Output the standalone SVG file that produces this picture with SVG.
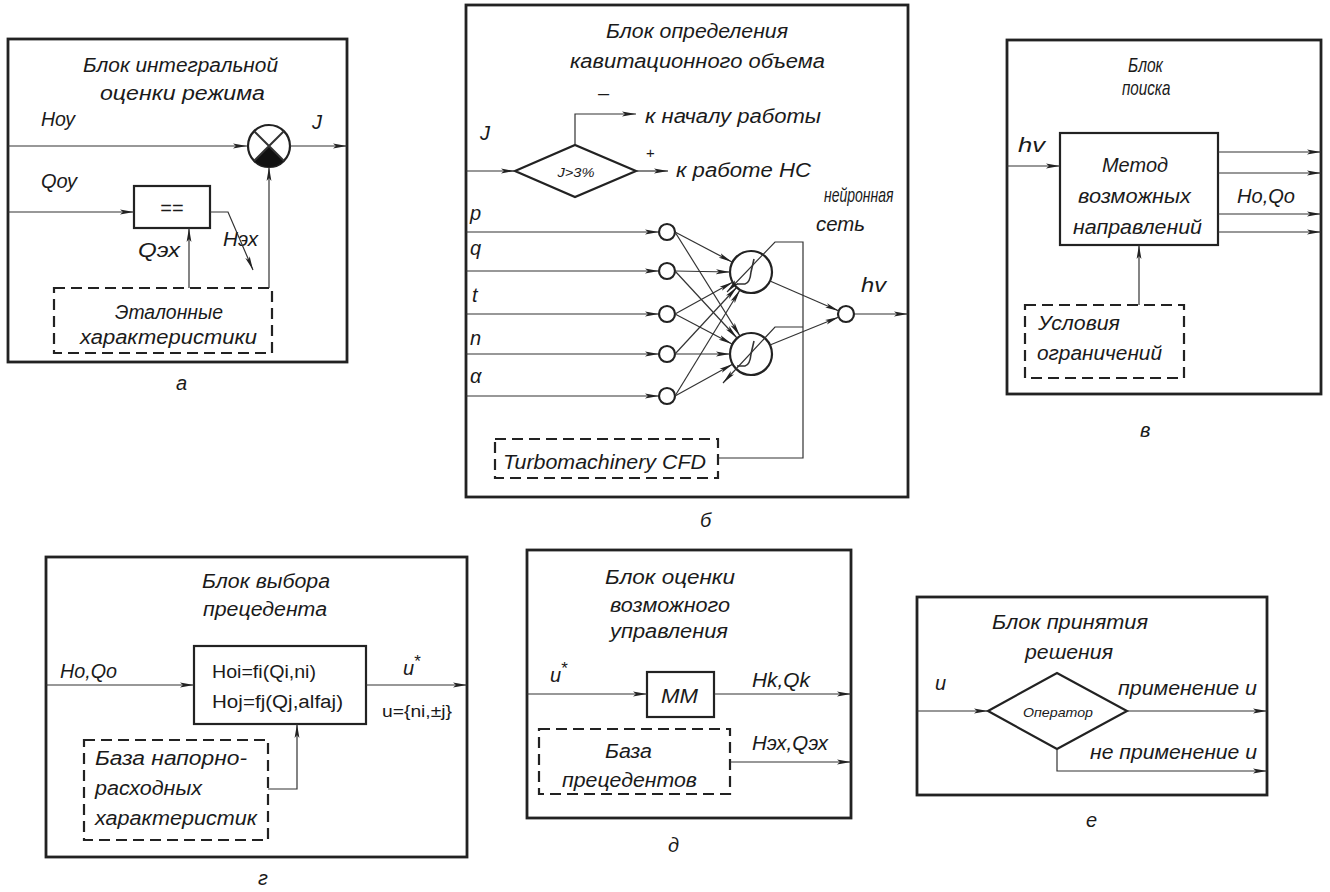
<svg xmlns="http://www.w3.org/2000/svg" width="1330" height="892" viewBox="0 0 1330 892">
<style>
text{font-family:"Liberation Sans","DejaVu Sans",sans-serif;font-style:italic;fill:#1a1a1a;font-size:20px}
.up{font-style:normal}
.sm{font-size:13px}
.frame{fill:none;stroke:#222;stroke-width:2.8}
.box{fill:#fff;stroke:#222;stroke-width:2.2}
.dash{fill:none;stroke:#222;stroke-width:2.2;stroke-dasharray:11 6}
.ln{fill:none;stroke:#333;stroke-width:1.2}
.lna{fill:none;stroke:#333;stroke-width:1.2;marker-end:url(#arr)}
.nc{fill:#fff;stroke:#222;stroke-width:2.2}
</style>
<defs>
<marker id="arr" viewBox="0 0 14 6" refX="14" refY="3" markerWidth="14" markerHeight="6" markerUnits="userSpaceOnUse" orient="auto"><path d="M0,0.6 L14,3 L0,5.4 L3,3 Z" fill="#222"/></marker>
</defs>
<rect width="1330" height="892" fill="#fff"/>

<!-- Panel a -->
<g id="panel-a">
<rect class="frame" x="8" y="39" width="339" height="323"/>
<text x="83" y="72" textLength="195" lengthAdjust="spacingAndGlyphs">Блок интегральной</text>
<text x="100" y="100" textLength="165" lengthAdjust="spacingAndGlyphs">оценки режима</text>
<text x="41" y="126" textLength="34" lengthAdjust="spacingAndGlyphs">Ноу</text>
<text x="312" y="129">J</text>
<text x="41" y="188" textLength="36" lengthAdjust="spacingAndGlyphs">Qоу</text>
<text x="223" y="246" textLength="35" lengthAdjust="spacingAndGlyphs">Нэх</text>
<text x="138" y="257" textLength="42" lengthAdjust="spacingAndGlyphs">Qэх</text>
<text x="176" y="390">а</text>
<g id="a-sum">
<circle class="nc" cx="269" cy="146" r="21"/>
<path d="M269,146 L254.2,160.8 A21,21 0 0 0 283.8,160.8 Z" fill="#111"/>
<path class="ln" d="M254.2,131.2 L283.8,160.8 M283.8,131.2 L254.2,160.8" style="stroke-width:2"/>
</g>
<g id="a-compare">
<rect class="box" x="134" y="186" width="76" height="42"/>
<text x="172" y="215" text-anchor="middle" class="up">==</text>
</g>
<g id="a-etalon">
<rect class="dash" x="54" y="288" width="218" height="65"/>
<text x="115" y="319" textLength="108" lengthAdjust="spacingAndGlyphs">Эталонные</text>
<text x="80" y="344" textLength="177" lengthAdjust="spacingAndGlyphs">характеристики</text>
</g>
<g id="a-connectors">
<path class="lna" d="M8,146 H247"/>
<path class="lna" d="M290,146 H347"/>
<path class="lna" d="M8,212 H134"/>
<path class="lna" d="M210,212 H228 L253,270"/>
<path class="lna" d="M189,288 V228"/>
<path class="lna" d="M269,288 V167"/>
</g>
</g>

<!-- Panel b -->
<g id="panel-b">
<rect class="frame" x="466" y="5" width="442" height="492"/>
<text x="606" y="38" textLength="182" lengthAdjust="spacingAndGlyphs">Блок определения</text>
<text x="570" y="68" textLength="255" lengthAdjust="spacingAndGlyphs">кавитационного объема</text>
<text x="598" y="100" class="up">–</text>
<text x="645" y="123" textLength="176" lengthAdjust="spacingAndGlyphs">к началу работы</text>
<text x="480" y="140">J</text>
<text x="646" y="158" class="up" style="font-size:15px">+</text>
<text x="676" y="177" textLength="135" lengthAdjust="spacingAndGlyphs">к работе НС</text>
<text transform="matrix(0.7 0 0 1 824 202)">нейронная</text>
<text x="816" y="231" textLength="49" lengthAdjust="spacingAndGlyphs">сеть</text>
<text x="470" y="220">p</text>
<text x="470" y="255">q</text>
<text x="472" y="302">t</text>
<text x="470" y="345">n</text>
<text x="470" y="383">α</text>
<text x="861" y="292" textLength="25" lengthAdjust="spacingAndGlyphs">hv</text>
<text x="700" y="527">б</text>
<g id="b-decision">
<polygon class="box" points="515,171 575,145 636,171 575,197"/>
<text x="576" y="177" text-anchor="middle" class="sm" textLength="37" lengthAdjust="spacingAndGlyphs">J&gt;3%</text>
</g>
<g id="b-inputs">
<circle class="nc" cx="667" cy="232" r="8"/>
<circle class="nc" cx="667" cy="271" r="8"/>
<circle class="nc" cx="667" cy="314" r="8"/>
<circle class="nc" cx="667" cy="354" r="8"/>
<circle class="nc" cx="667" cy="396" r="8"/>
</g>
<g id="b-hidden1">
<circle class="nc" cx="751" cy="272" r="21"/>
<path class="ln" d="M737,284 L745,284 Q750,283 751,272 L754,259" style="stroke-width:1.6"/>
</g>
<g id="b-hidden2">
<circle class="nc" cx="751" cy="354" r="21"/>
<path class="ln" d="M737,366 L745,366 Q750,365 751,354 L754,341" style="stroke-width:1.6"/>
</g>
<g id="b-output">
<circle class="nc" cx="846" cy="314" r="8"/>
</g>
<g id="b-cfd">
<rect class="dash" x="495" y="439" width="223" height="39"/>
<text x="503" y="469" textLength="203" lengthAdjust="spacingAndGlyphs">Turbomachinery CFD</text>
</g>
<g id="b-connectors">
<path class="lna" d="M466,171 H515"/>
<path class="lna" d="M575,145 V114 H636"/>
<path class="lna" d="M636,171 H668"/>
<path class="lna" d="M466,232 H659"/>
<path class="lna" d="M466,271 H659"/>
<path class="lna" d="M466,314 H659"/>
<path class="lna" d="M466,354 H659"/>
<path class="lna" d="M466,396 H659"/>
<path class="lna" d="M675,232 L732,262"/>
<path class="lna" d="M675,271 L730,272"/>
<path class="lna" d="M675,314 L733,282"/>
<path class="lna" d="M675,354 L737,287"/>
<path class="lna" d="M675,396 L740,290"/>
<path class="lna" d="M675,232 L740,336"/>
<path class="lna" d="M675,271 L737,338"/>
<path class="lna" d="M675,314 L732,344"/>
<path class="lna" d="M675,354 L730,354"/>
<path class="lna" d="M675,396 L733,364"/>
<path class="lna" d="M770,281 L839,311"/>
<path class="lna" d="M770,345 L839,317"/>
<path class="lna" d="M854,314 H908"/>
<path class="lna" d="M718,458 H803 V242 H775 L727,292"/>
<path class="lna" d="M803,327 H775 L723,383"/>
</g>
</g>

<!-- Panel v -->
<g id="panel-v">
<rect class="frame" x="1007" y="40" width="314" height="354"/>
<text transform="matrix(0.78 0 0 1 1128 72)">Блок</text>
<text transform="matrix(0.76 0 0 1 1122 95)">поиска</text>
<text x="1018" y="152" textLength="27" lengthAdjust="spacingAndGlyphs">hv</text>
<text x="1237" y="203" textLength="58" lengthAdjust="spacingAndGlyphs">Но,Qo</text>
<text x="1140" y="437">в</text>
<g id="v-method">
<rect class="box" x="1060" y="133" width="158" height="112"/>
<text x="1102" y="172" textLength="66" lengthAdjust="spacingAndGlyphs">Метод</text>
<text x="1078" y="203" textLength="113" lengthAdjust="spacingAndGlyphs">возможных</text>
<text x="1073" y="234" textLength="129" lengthAdjust="spacingAndGlyphs">направлений</text>
</g>
<g id="v-constraints">
<rect class="dash" x="1025" y="305" width="159" height="73"/>
<text x="1038" y="330" textLength="82" lengthAdjust="spacingAndGlyphs">Условия</text>
<text x="1037" y="360" textLength="125" lengthAdjust="spacingAndGlyphs">ограничений</text>
</g>
<g id="v-connectors">
<path class="lna" d="M1007,166 H1060"/>
<path class="lna" d="M1218,152 H1321"/>
<path class="lna" d="M1218,173 H1321"/>
<path class="lna" d="M1218,214 H1321"/>
<path class="lna" d="M1218,232 H1321"/>
<path class="lna" d="M1139,305 V245"/>
</g>
</g>

<!-- Panel g -->
<g id="panel-g">
<rect class="frame" x="46" y="557" width="421" height="300"/>
<text x="202" y="588" textLength="128" lengthAdjust="spacingAndGlyphs">Блок выбора</text>
<text x="203" y="616" textLength="124" lengthAdjust="spacingAndGlyphs">прецедента</text>
<text x="60" y="678" textLength="57" lengthAdjust="spacingAndGlyphs">Но,Qo</text>
<text x="403" y="675">u<tspan dy="-8" class="up" style="font-size:17px">*</tspan></text>
<text x="382" y="717" class="up" style="font-size:17px" textLength="70" lengthAdjust="spacingAndGlyphs">u={ni,±j}</text>
<text x="258" y="885">г</text>
<g id="g-func">
<rect class="box" x="194" y="646" width="172" height="78"/>
<text x="212" y="678" class="up" style="font-size:18px" textLength="104" lengthAdjust="spacingAndGlyphs">Hoi=fi(Qi,ni)</text>
<text x="212" y="708" class="up" style="font-size:18px" textLength="131" lengthAdjust="spacingAndGlyphs">Hoj=fj(Qj,alfaj)</text>
</g>
<g id="g-base">
<rect class="dash" x="84" y="740" width="184" height="100"/>
<text x="95" y="765" textLength="152" lengthAdjust="spacingAndGlyphs">База напорно-</text>
<text x="95" y="795" textLength="107" lengthAdjust="spacingAndGlyphs">расходных</text>
<text x="95" y="825" textLength="162" lengthAdjust="spacingAndGlyphs">характеристик</text>
</g>
<g id="g-connectors">
<path class="lna" d="M46,685 H194"/>
<path class="lna" d="M366,685 H467"/>
<path class="lna" d="M268,789 H297 V724"/>
</g>
</g>

<!-- Panel d -->
<g id="panel-d">
<rect class="frame" x="527" y="550" width="324" height="268"/>
<text x="605" y="584" textLength="130" lengthAdjust="spacingAndGlyphs">Блок оценки</text>
<text x="610" y="612" textLength="120" lengthAdjust="spacingAndGlyphs">возможного</text>
<text x="610" y="638" textLength="118" lengthAdjust="spacingAndGlyphs">управления</text>
<text x="550" y="682">u<tspan dy="-8" class="up" style="font-size:17px">*</tspan></text>
<text x="752" y="687" textLength="58" lengthAdjust="spacingAndGlyphs">Hk,Qk</text>
<text x="752" y="750" textLength="76" lengthAdjust="spacingAndGlyphs">Нэх,Qэх</text>
<text x="668" y="852">д</text>
<g id="d-mm">
<rect class="box" x="647" y="672" width="67" height="45"/>
<text x="661" y="703" textLength="37" lengthAdjust="spacingAndGlyphs">MM</text>
</g>
<g id="d-base">
<rect class="dash" x="539" y="729" width="191" height="65"/>
<text x="605" y="758" textLength="47" lengthAdjust="spacingAndGlyphs">База</text>
<text x="562" y="787" textLength="135" lengthAdjust="spacingAndGlyphs">прецедентов</text>
</g>
<g id="d-connectors">
<path class="lna" d="M527,694 H647"/>
<path class="lna" d="M714,694 H851"/>
<path class="lna" d="M730,762 H851"/>
</g>
</g>

<!-- Panel e -->
<g id="panel-e">
<rect class="frame" x="917" y="597" width="350" height="198"/>
<text x="992" y="629" textLength="156" lengthAdjust="spacingAndGlyphs">Блок принятия</text>
<text x="1025" y="659" textLength="88" lengthAdjust="spacingAndGlyphs">решения</text>
<text x="935" y="690">u</text>
<text x="1118" y="695" textLength="139" lengthAdjust="spacingAndGlyphs">применение u</text>
<text x="1090" y="759" textLength="167" lengthAdjust="spacingAndGlyphs">не применение u</text>
<text x="1086" y="827">е</text>
<g id="e-operator">
<polygon class="box" points="988,711 1057,673 1127,711 1057,749"/>
<text x="1023" y="717" class="sm" textLength="70" lengthAdjust="spacingAndGlyphs">Оператор</text>
</g>
<g id="e-connectors">
<path class="lna" d="M917,711 H988"/>
<path class="lna" d="M1127,711 H1267"/>
<path class="lna" d="M1057,749 V771 H1267"/>
</g>
</g>
</svg>
